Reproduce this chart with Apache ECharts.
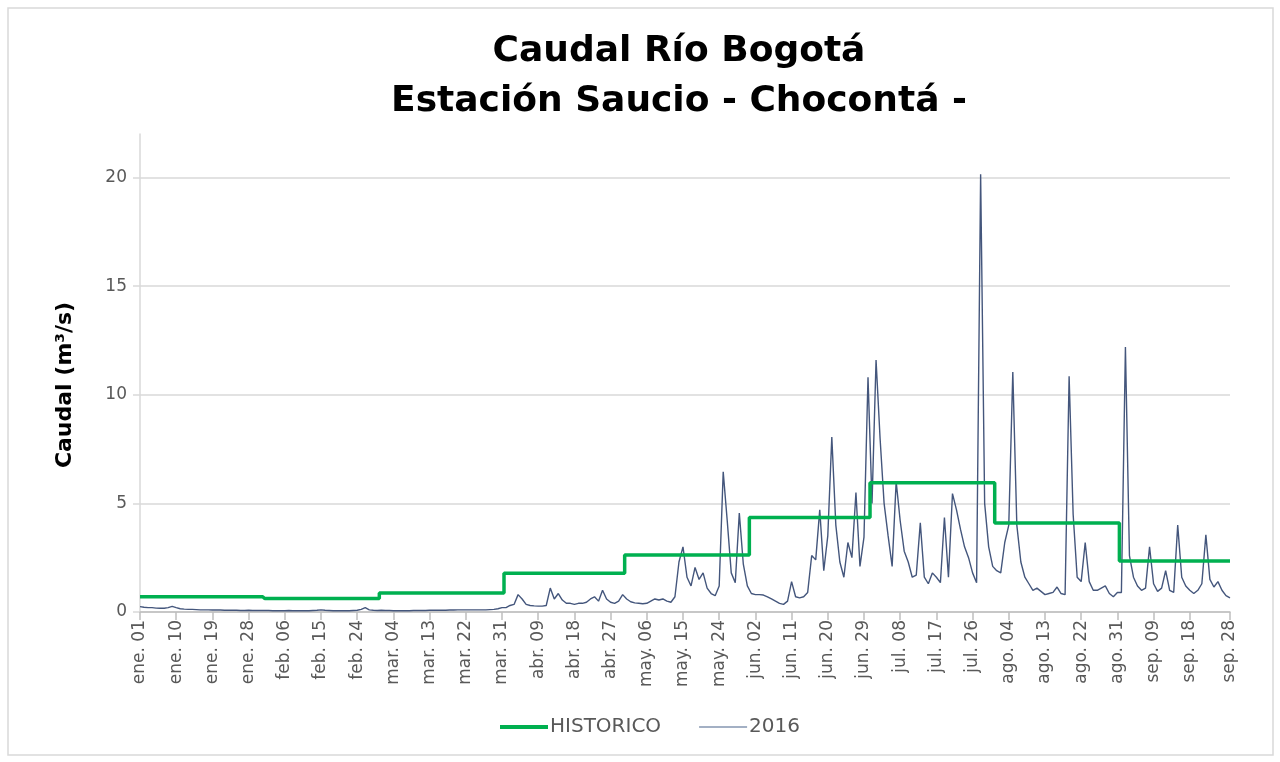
<!DOCTYPE html>
<html>
<head>
<meta charset="utf-8">
<script src="https://cdn.jsdelivr.net/npm/echarts@6/dist/echarts.min.js"></script>
<style>
  html, body { margin: 0; padding: 0; background: #fff; }
  #chart { width: 1280px; height: 762px; }
</style>
</head>
<body>
<div id="chart"></div>
<script>
// meses del eje (2016 bisiesto)
const mesAbrev = ['ene', 'feb', 'mar', 'abr', 'may', 'jun', 'jul', 'ago', 'sep']
const diasMes = [31, 29, 31, 30, 31, 30, 31, 31, 28]

// caudal medio mensual histórico (m3/s)
const historicoMensual = [0.7, 0.62, 0.88, 1.78, 2.62, 4.35, 5.95, 4.1, 2.35]

// caudal diario 2016 (m3/s)
const q2016Ene = [0.25, 0.22, 0.2, 0.2, 0.18, 0.17, 0.17, 0.2, 0.26, 0.2, 0.15, 0.13, 0.12, 0.12, 0.11, 0.1,
  0.1, 0.1, 0.09, 0.09, 0.09, 0.08, 0.08, 0.08, 0.08, 0.07, 0.07, 0.08, 0.07, 0.07, 0.07]
const q2016Feb = [0.07, 0.07, 0.06, 0.06, 0.06, 0.06, 0.07, 0.06, 0.06, 0.06, 0.06, 0.06, 0.07, 0.08, 0.1,
  0.08, 0.07, 0.06, 0.06, 0.06, 0.06, 0.06, 0.07, 0.08, 0.12, 0.2, 0.1, 0.08, 0.07]
const q2016Mar = [0.08, 0.07, 0.07, 0.06, 0.06, 0.06, 0.06, 0.06, 0.07, 0.07, 0.07, 0.07, 0.08, 0.08, 0.08,
  0.08, 0.08, 0.09, 0.09, 0.1, 0.1, 0.1, 0.1, 0.1, 0.1, 0.1, 0.1, 0.11, 0.12, 0.15, 0.2]
const q2016Abr = [0.2, 0.3, 0.35, 0.8, 0.6, 0.35, 0.3, 0.28, 0.27, 0.27, 0.3, 1.1, 0.6, 0.85, 0.55, 0.4,
  0.4, 0.35, 0.4, 0.4, 0.45, 0.6, 0.7, 0.5, 1.0, 0.6, 0.45, 0.4, 0.5, 0.8]
const q2016May = [0.6, 0.47, 0.42, 0.4, 0.38, 0.4, 0.5, 0.6, 0.55, 0.6, 0.5, 0.45, 0.7, 2.3, 3.0, 1.6,
  1.2, 2.05, 1.5, 1.8, 1.1, 0.85, 0.75, 1.2, 6.45, 4.2, 1.8, 1.35, 4.55, 2.2, 1.2]
const q2016Jun = [0.85, 0.8, 0.8, 0.78, 0.7, 0.6, 0.5, 0.4, 0.35, 0.5, 1.4, 0.7, 0.65, 0.7, 0.9, 2.6,
  2.4, 4.7, 1.9, 3.5, 8.05, 4.0, 2.3, 1.6, 3.2, 2.5, 5.5, 2.1, 3.45, 10.8]
const q2016Jul = [5.0, 11.6, 8.0, 5.0, 3.5, 2.1, 6.0, 4.2, 2.8, 2.3, 1.6, 1.7, 4.1, 1.6, 1.3, 1.8,
  1.6, 1.35, 4.35, 1.6, 5.45, 4.7, 3.8, 3.0, 2.5, 1.8, 1.35, 20.15, 5.0, 3.0, 2.1]
const q2016Ago = [1.9, 1.8, 3.2, 4.0, 11.05, 4.0, 2.3, 1.6, 1.3, 1.0, 1.1, 0.95, 0.8, 0.85, 0.9, 1.15,
  0.85, 0.8, 10.85, 4.5, 1.6, 1.4, 3.2, 1.4, 1.0, 1.0, 1.1, 1.2, 0.85, 0.7, 0.9]
const q2016Sep = [0.9, 12.2, 2.6, 1.6, 1.2, 1.0, 1.1, 3.0, 1.3, 0.95, 1.1, 1.9, 1.0, 0.9, 4.0, 1.6,
  1.2, 1.0, 0.85, 1.0, 1.3, 3.55, 1.5, 1.15, 1.4, 1.0, 0.75, 0.65]

const q2016PorMes = [q2016Ene, q2016Feb, q2016Mar, q2016Abr, q2016May, q2016Jun, q2016Jul, q2016Ago, q2016Sep]

const categorias = []
const historico = []
const serie2016 = []
mesAbrev.forEach((mes, m) => {
  for (let d = 1; d <= diasMes[m]; d++) {
    categorias.push(mes + '. ' + String(d).padStart(2, '0'))
    historico.push(historicoMensual[m])
    serie2016.push(q2016PorMes[m][d - 1])
  }
})

const ultimo = categorias.length - 1
const mostrarEtiqueta = (i) => (i % 9 === 0 && i < ultimo - 1) || i === ultimo

const fuente = 'DejaVu Sans'
const gris = '#595959'
const lineaGris = '#d9d9d9'
const verde = '#00b050'
const azul = '#44567c'

const chart = echarts.init(document.getElementById('chart'), null, { renderer: 'canvas' })

chart.setOption({
  backgroundColor: '#fff',
  animation: false,
  graphic: [{
    type: 'rect',
    shape: { x: 8, y: 8, width: 1265, height: 747 },
    style: { fill: 'none', stroke: lineaGris, lineWidth: 1.5 },
    silent: true,
  }],
  title: {
    text: 'Caudal Río Bogotá\nEstación Saucio - Chocontá -',
    left: 674,
    top: 22,
    textAlign: 'center',
    textStyle: {
      fontFamily: fuente,
      fontWeight: 'bold',
      fontSize: 36,
      lineHeight: 50,
      color: '#000',
    },
  },
  legend: {
    bottom: 20,
    left: 495,
    itemWidth: 48,
    itemHeight: 14,
    itemGap: 38,
    symbolKeepAspect: true,
    textStyle: { fontFamily: fuente, fontSize: 20, color: gris, padding: [0, 0, 0, -3] },
    data: [
      { name: 'HISTORICO', icon: 'path://M0 0H100V8H0Z' },
      { name: '2016', icon: 'path://M0 0H100V3H0Z' },
    ],
  },
  grid: {
    left: 140,
    right: 50,
    top: 134,
    bottom: 150,
    containLabel: false,
  },
  xAxis: {
    type: 'category',
    boundaryGap: false,
    data: categorias,
    axisLine: { lineStyle: { color: '#bfbfbf', width: 1.5 } },
    axisTick: {
      interval: (i) => mostrarEtiqueta(i),
      length: 8,
      lineStyle: { color: '#bfbfbf', width: 1.5 },
    },
    axisLabel: {
      interval: (i) => mostrarEtiqueta(i),
      rotate: 90,
      margin: 8,
      fontFamily: fuente,
      fontSize: 17,
      color: gris,
    },
    splitLine: { show: false },
  },
  yAxis: {
    type: 'value',
    min: 0,
    max: 22,
    interval: 5,
    name: 'Caudal (m³/s)',
    nameLocation: 'middle',
    nameGap: 64,
    nameTextStyle: {
      fontFamily: fuente,
      fontWeight: 'bold',
      fontSize: 22,
      color: '#000',
      padding: [0, 24, 0, 0],
    },
    axisLine: { show: true, lineStyle: { color: lineaGris, width: 1.5 } },
    axisTick: { show: true, length: 7, lineStyle: { color: lineaGris, width: 1.5 } },
    axisLabel: {
      showMaxLabel: false,
      margin: 13,
      fontFamily: fuente,
      fontSize: 17,
      color: gris,
    },
    splitLine: { showMaxLine: false, lineStyle: { color: lineaGris, width: 1.5 } },
  },
  series: [
    {
      name: 'HISTORICO',
      type: 'line',
      step: 'middle',
      data: historico,
      symbol: 'none',
      lineStyle: { color: verde, width: 3.5 },
      itemStyle: { color: verde },
      z: 3,
    },
    {
      name: '2016',
      type: 'line',
      data: serie2016,
      symbol: 'none',
      lineStyle: { color: azul, width: 1.4 },
      itemStyle: { color: '#8496b0' },
      z: 2,
    },
  ],
})
</script>
</body>
</html>
